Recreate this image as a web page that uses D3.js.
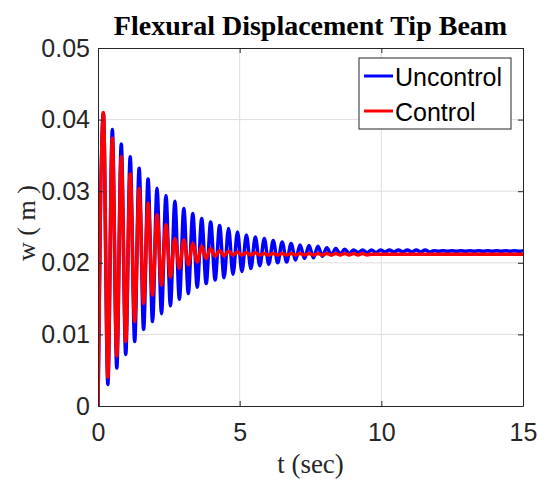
<!DOCTYPE html>
<html>
<head>
<meta charset="utf-8">
<script src="https://cdn.jsdelivr.net/npm/d3@7/dist/d3.min.js"></script>
<style>
body { margin: 0; background: #fff; }
.axis text { font-family: "Liberation Sans", Arial, sans-serif; font-size: 25px; fill: #262626; }
.axis line, .axis path { stroke: #262626; }
</style>
</head>
<body>
<div id="chart-area"></div>
<script>
// ---- DATA
var period = 0.3155;   // oscillation period, sec
var firstPeak = 0.19;  // time of the first maximum, sec

// successive maxima / minima of w (m), one per cycle
var uncontrolTops = [0.0409, 0.0386, 0.0366, 0.0348, 0.0332, 0.0317, 0.0304, 0.0294, 0.0286, 0.0276,
    0.0269, 0.0262, 0.0257, 0.0252, 0.0248, 0.0243, 0.0239, 0.0236, 0.0234, 0.0231,
    0.0229, 0.0227, 0.0225, 0.0224, 0.0223, 0.0221, 0.0220, 0.0219, 0.0218, 0.0218,
    0.0218, 0.0218, 0.0218, 0.0218, 0.0218, 0.0218, 0.0218, 0.0217, 0.0217, 0.0217,
    0.0217, 0.0217, 0.0217, 0.0217, 0.0217, 0.0217, 0.0217, 0.0217];
var uncontrolBottoms = [0.0030, 0.0053, 0.0072, 0.0090, 0.0107, 0.0118, 0.0129, 0.0140, 0.0149, 0.0157,
    0.0166, 0.0171, 0.0176, 0.0179, 0.0184, 0.0188, 0.0192, 0.0196, 0.0198, 0.0200,
    0.0201, 0.0204, 0.0206, 0.0207, 0.0209, 0.0211, 0.0212, 0.0213, 0.0214, 0.0214,
    0.0214, 0.0215, 0.0215, 0.0215, 0.0215, 0.0215, 0.0215, 0.0216, 0.0216, 0.0216,
    0.0216, 0.0216, 0.0216, 0.0216, 0.0216, 0.0216, 0.0216];
var controlTops = [0.0410, 0.0374, 0.0348, 0.0324, 0.0304, 0.0283, 0.0267, 0.0253, 0.0234, 0.0232,
    0.0227, 0.0223, 0.0220, 0.0217, 0.0216, 0.0215, 0.0214, 0.0214, 0.0213, 0.0213,
    0.0213, 0.0213, 0.0213, 0.0213, 0.0213, 0.0213, 0.0213, 0.0213, 0.0213, 0.0213,
    0.0212, 0.0212, 0.0212, 0.0212, 0.0212, 0.0212, 0.0212, 0.0212, 0.0212, 0.0212,
    0.0212, 0.0212, 0.0212, 0.0212, 0.0212, 0.0212, 0.0212, 0.0212];
var controlBottoms = [0.0040, 0.0070, 0.0090, 0.0118, 0.0143, 0.0155, 0.0169, 0.0180, 0.0192, 0.0197,
    0.0201, 0.0206, 0.0209, 0.0210, 0.0211, 0.0211, 0.0211, 0.0211, 0.0211, 0.0211,
    0.0211, 0.0211, 0.0211, 0.0211, 0.0211, 0.0211, 0.0211, 0.0211, 0.0211, 0.0211,
    0.0212, 0.0212, 0.0212, 0.0212, 0.0212, 0.0212, 0.0212, 0.0212, 0.0212, 0.0212,
    0.0212, 0.0212, 0.0212, 0.0212, 0.0212, 0.0212, 0.0212];

var xTicks = [0, 5, 10, 15];
var yTicks = [0, 0.01, 0.02, 0.03, 0.04, 0.05];
var seriesNames = ["Uncontrol", "Control"];
var seriesColors = ["#0000ff", "#ff0000"];

// Margin
var margin = { top: 48, right: 15, bottom: 73, left: 98 };
var width = 538 - margin.left - margin.right;
var height = 479 - margin.top - margin.bottom;

var svg = d3.select("#chart-area")
    .append("svg")
    .attr("width", 538)
    .attr("height", 479);

var g = svg.append("g")
    .attr("transform", "translate(" + margin.left + ", " + margin.top + ")");

// SCALES
var x = d3.scaleLinear().domain([0, 15]).range([0, width]);
var y = d3.scaleLinear().domain([0, 0.05]).range([height, 0]);

// turn the list of extremes into points of the curve
function buildSeries(tops, bottoms) {
    var pts = [{ t: 0, w: 0 }];
    tops.forEach((v, k) => {
        pts.push({ t: firstPeak + k * period, w: v });
        if (k < bottoms.length) pts.push({ t: firstPeak + (k + 0.5) * period, w: bottoms[k] });
    });
    return pts;
}
var series = [buildSeries(uncontrolTops, uncontrolBottoms), buildSeries(controlTops, controlBottoms)];

// GRID
g.append("g").selectAll("line").data(xTicks.slice(1, -1)).enter()
    .append("line")
    .attr("x1", (d) => x(d)).attr("x2", (d) => x(d))
    .attr("y1", 0).attr("y2", height)
    .attr("stroke", "#dedede");
g.append("g").selectAll("line").data(yTicks.slice(1, -1)).enter()
    .append("line")
    .attr("y1", (d) => y(d)).attr("y2", (d) => y(d))
    .attr("x1", 0).attr("x2", width)
    .attr("stroke", "#dedede");

// LINES
g.append("clipPath").attr("id", "clip")
    .append("rect").attr("width", width).attr("height", height);

var line = d3.line()
    .x((d) => x(d.t))
    .y((d) => y(d.w))
    .curve(d3.curveMonotoneX);

g.append("g").attr("clip-path", "url(#clip)")
    .selectAll("path").data(series).enter()
    .append("path")
    .attr("d", line)
    .attr("fill", "none")
    .attr("stroke", (d, i) => seriesColors[i])
    .attr("stroke-width", 3.5)
    .attr("stroke-linejoin", "round");

// AXIS
g.append("g").attr("class", "axis")
    .attr("transform", "translate(0, " + height + ")")
    .call(d3.axisBottom(x).tickValues(xTicks).tickSizeInner(-5).tickSizeOuter(0).tickPadding(17));
g.append("g").attr("class", "axis")
    .call(d3.axisLeft(y).tickValues(yTicks).tickFormat((d) => d === 0 ? "0" : d3.format(".2f")(d))
        .tickSizeInner(-5).tickSizeOuter(0).tickPadding(8));
g.append("g").attr("class", "axis")
    .call(d3.axisTop(x).tickValues(xTicks).tickSizeInner(-5).tickSizeOuter(0).tickFormat(""));
g.append("g").attr("class", "axis")
    .attr("transform", "translate(" + width + ", 0)")
    .call(d3.axisRight(y).tickValues(yTicks).tickSizeInner(-5).tickSizeOuter(0).tickFormat(""));

//---TITLE LABELS
svg.append("text")
    .attr("x", margin.left + width / 2)
    .attr("y", 35)
    .attr("text-anchor", "middle")
    .style("font-family", "'Liberation Serif', 'Times New Roman', serif")
    .style("font-weight", "bold")
    .style("font-size", "28px")
    .style("fill", "#000")
    .text("Flexural Displacement Tip Beam");

svg.append("text")
    .attr("x", margin.left + width / 2)
    .attr("y", 473)
    .attr("text-anchor", "middle")
    .style("font-family", "'Liberation Serif', 'Times New Roman', serif")
    .style("font-size", "27px")
    .style("fill", "#262626")
    .text("t (sec)");

svg.append("text")
    .attr("transform", "translate(35, " + (margin.top + height / 2 - 4) + ") rotate(-90)")
    .attr("text-anchor", "middle")
    .style("font-family", "'Liberation Serif', 'Times New Roman', serif")
    .style("font-size", "26px")
    .style("fill", "#262626")
    .text("w ( m )");

// LEGEND
var legend = svg.append("g").attr("transform", "translate(359, 58)");
legend.append("rect")
    .attr("width", 152).attr("height", 71)
    .attr("fill", "#fff").attr("stroke", "#262626").attr("stroke-width", 1);
var items = legend.selectAll(".item").data(seriesNames).enter()
    .append("g").attr("class", "item")
    .attr("transform", (d, i) => "translate(0, " + (18 + i * 35) + ")");
items.append("line")
    .attr("x1", 5).attr("x2", 34)
    .attr("stroke", (d, i) => seriesColors[i])
    .attr("stroke-width", 3);
items.append("text")
    .attr("x", 36).attr("y", 9.5)
    .style("font-family", "'Liberation Sans', Arial, sans-serif")
    .style("font-size", "25px")
    .style("fill", "#000")
    .text((d) => d);
</script>
</body>
</html>
